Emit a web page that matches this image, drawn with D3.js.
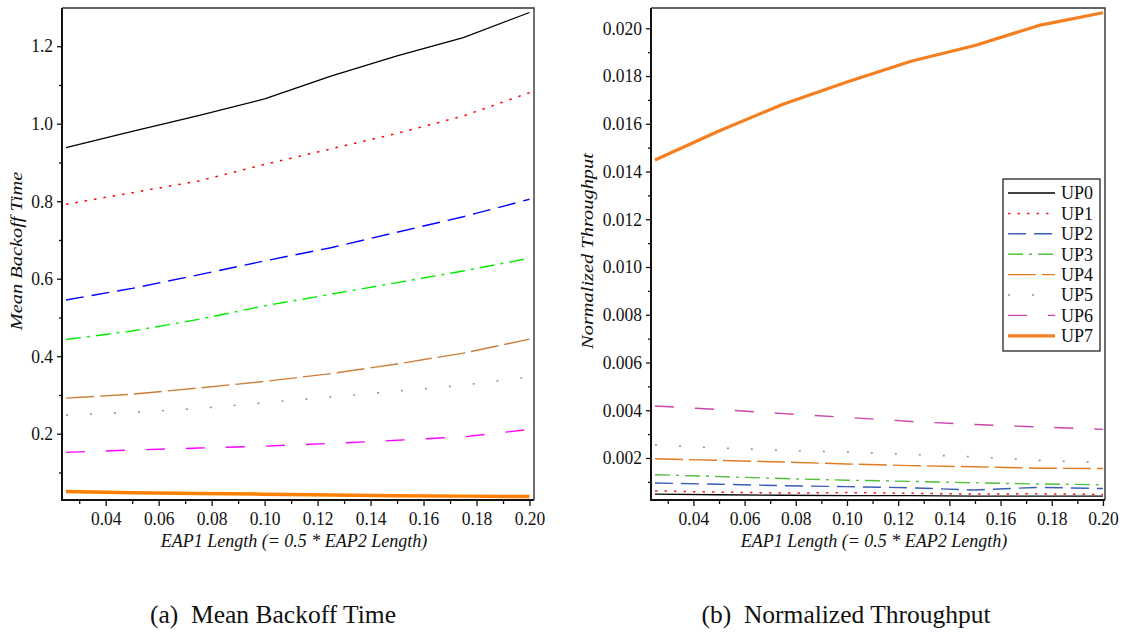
<!DOCTYPE html>
<html>
<head>
<meta charset="utf-8">
<script src="https://cdn.jsdelivr.net/npm/d3@7/dist/d3.min.js"></script>
<style>
  html, body { margin: 0; padding: 0; background: #fff; }
  svg { display: block; }
  text { font-family: "Liberation Serif", "Times New Roman", serif; fill: #111; }
</style>
</head>
<body>
<svg id="fig" width="1127" height="633"></svg>
<script>
// EAP1 length values (x axis, both panels)
const eapLengths = [0.025, 0.05, 0.075, 0.1, 0.125, 0.15, 0.175, 0.2];
const seriesNames = ["UP0", "UP1", "UP2", "UP3", "UP4", "UP5", "UP6", "UP7"];

// Mean backoff time per user priority
const backoffUP0 = [0.938, 0.980, 1.021, 1.064, 1.123, 1.175, 1.222, 1.287];
const backoffUP1 = [0.792, 0.822, 0.852, 0.895, 0.935, 0.975, 1.020, 1.080];
const backoffUP2 = [0.545, 0.575, 0.610, 0.646, 0.680, 0.720, 0.760, 0.805];
const backoffUP3 = [0.443, 0.465, 0.495, 0.530, 0.560, 0.590, 0.620, 0.653];
const backoffUP4 = [0.292, 0.302, 0.318, 0.335, 0.355, 0.380, 0.408, 0.444];
const backoffUP5 = [0.248, 0.255, 0.265, 0.280, 0.295, 0.310, 0.325, 0.347];
const backoffUP6 = [0.152, 0.158, 0.163, 0.168, 0.175, 0.183, 0.192, 0.211];
const backoffUP7 = [0.051, 0.048, 0.046, 0.044, 0.042, 0.040, 0.039, 0.038];

// Normalized throughput per user priority
const thrUP0 = [0.00049, 0.00046, 0.00044, 0.00042, 0.00042, 0.00040, 0.00040, 0.00040];
const thrUP1 = [0.00062, 0.00057, 0.00053, 0.00055, 0.00052, 0.00049, 0.00050, 0.00047];
const thrUP2 = [0.00095, 0.00090, 0.00084, 0.00080, 0.00075, 0.00066, 0.00077, 0.00072];
const thrUP3 = [0.00130, 0.00122, 0.00114, 0.00107, 0.00102, 0.00096, 0.00091, 0.00088];
const thrUP4 = [0.00197, 0.00190, 0.00183, 0.00175, 0.00168, 0.00163, 0.00157, 0.00156];
const thrUP5 = [0.00255, 0.00242, 0.00232, 0.00225, 0.00215, 0.00205, 0.00190, 0.00180];
const thrUP6 = [0.00418, 0.00403, 0.00386, 0.00370, 0.00353, 0.00340, 0.00330, 0.00320];
const thrUP7 = [0.01448, 0.01570, 0.01682, 0.01775, 0.01862, 0.01928, 0.02012, 0.02065];

// Tick values
const xMajorTicks = [0.04, 0.06, 0.08, 0.10, 0.12, 0.14, 0.16, 0.18, 0.20];
const xMinorTicks = [0.03, 0.05, 0.07, 0.09, 0.11, 0.13, 0.15, 0.17, 0.19];
const backoffMajorTicks = [0.2, 0.4, 0.6, 0.8, 1.0, 1.2];
const backoffMinorTicks = [0.1, 0.3, 0.5, 0.7, 0.9, 1.1];
const thrMajorTicks = [0.002, 0.004, 0.006, 0.008, 0.010, 0.012, 0.014, 0.016, 0.018, 0.020];
const thrMinorTicks = [0.001, 0.003, 0.005, 0.007, 0.009, 0.011, 0.013, 0.015, 0.017, 0.019];

// Line styles (panel a and panel b use slightly different palettes)
const styleA = [
  { color: "#000000", width: 1.3, dash: null },
  { color: "#ff0000", width: 1.5, dash: "2.5,7" },
  { color: "#0000ff", width: 1.4, dash: "18,8" },
  { color: "#00ee00", width: 1.4, dash: "15,6,3,6" },
  { color: "#cd7f3a", width: 1.4, dash: "28,6" },
  { color: "#999966", width: 1.6, dash: "2,22" },
  { color: "#ff00ff", width: 1.4, dash: "19,21" },
  { color: "#ff7f00", width: 3.5, dash: null }
];
const styleB = [
  { color: "#000000", width: 1.3, dash: null },
  { color: "#ee2020", width: 1.5, dash: "2.5,7" },
  { color: "#3a5db5", width: 1.4, dash: "18,8" },
  { color: "#4fbf3a", width: 1.4, dash: "15,6,3,6" },
  { color: "#e07b22", width: 1.4, dash: "28,6" },
  { color: "#9a9a60", width: 1.6, dash: "2,22" },
  { color: "#cc44aa", width: 1.4, dash: "19,21" },
  { color: "#f47f20", width: 3.2, dash: null }
];

const backoffSeries = [backoffUP0, backoffUP1, backoffUP2, backoffUP3, backoffUP4, backoffUP5, backoffUP6, backoffUP7];
const thrSeries = [thrUP0, thrUP1, thrUP2, thrUP3, thrUP4, thrUP5, thrUP6, thrUP7];

const serif = "Liberation Serif, Times New Roman, serif";
const stretch = 1.1;   // tick labels are drawn slightly tall
const svg = d3.select("#fig");

function styleTicks(sel, size) {
  sel.attr("font-family", serif);
  sel.selectAll(".tick line").attr("stroke", "#111").attr("stroke-width", 1.3);
  sel.selectAll(".tick text").attr("font-size", size).attr("font-family", serif)
    .attr("fill", "#111").attr("transform", `scale(1,${stretch})`);
  sel.select(".domain").remove();
}

function drawPanel(cfg) {
  const { left, right, top, bottom, xDomain, yDomain, series, styles,
          yMajor, yMinor, yFmt, yTitle, yTitleX, caption, captionX } = cfg;
  const x = d3.scaleLinear().domain(xDomain).range([left, right]);
  const y = d3.scaleLinear().domain(yDomain).range([bottom, top]);
  const g = svg.append("g");

  // frame (top and right)
  g.append("path")
    .attr("d", `M${left},${top}H${right}V${bottom}`)
    .attr("fill", "none").attr("stroke", "#333").attr("stroke-width", 1.4);

  // series lines, clipped to the frame
  const clipId = "clip" + Math.round(left);
  svg.append("clipPath").attr("id", clipId)
    .append("rect").attr("x", left).attr("y", top)
    .attr("width", right - left).attr("height", bottom - top);
  const line = d3.line().x((d, i) => x(eapLengths[i])).y(d => y(d));
  const lines = g.append("g").attr("clip-path", `url(#${clipId})`);
  series.forEach((vals, k) => {
    const s = styles[k];
    lines.append("path")
      .attr("d", line(vals))
      .attr("fill", "none")
      .attr("stroke", s.color)
      .attr("stroke-width", s.width)
      .attr("stroke-dasharray", s.dash)
      .attr("stroke-linejoin", "round");
  });

  // bottom axis, major and minor ticks
  g.append("g").attr("transform", `translate(0,${bottom})`)
    .call(d3.axisBottom(x).tickValues(xMajorTicks).tickFormat(d3.format(".2f"))
      .tickSize(6).tickPadding(4.5).tickSizeOuter(0))
    .call(styleTicks, 17.5);
  g.append("g").attr("transform", `translate(0,${bottom})`)
    .call(d3.axisBottom(x).tickValues(xMinorTicks).tickFormat("").tickSize(4).tickSizeOuter(0))
    .call(styleTicks, 17.5);

  // left axis, major and minor ticks
  const gy = g.append("g").attr("transform", `translate(${left},0)`)
    .call(d3.axisLeft(y).tickValues(yMajor).tickFormat(d3.format(yFmt))
      .tickSize(5).tickPadding(4).tickSizeOuter(0))
    .call(styleTicks, 17.5);
  gy.selectAll(".tick text").attr("dy", "0.3em");
  g.append("g").attr("transform", `translate(${left},0)`)
    .call(d3.axisLeft(y).tickValues(yMinor).tickFormat("").tickSize(3).tickSizeOuter(0))
    .call(styleTicks, 17.5);

  // left and bottom axis lines
  g.append("path")
    .attr("d", `M${left},${top}V${bottom}H${right}`)
    .attr("fill", "none").attr("stroke", "#111").attr("stroke-width", 2);

  // axis titles
  g.append("text")
    .attr("x", (left + right) / 2 - 4).attr("y", bottom + 47)
    .attr("text-anchor", "middle").attr("font-style", "italic").attr("font-size", 18)
    .attr("font-family", serif)
    .text("EAP1 Length (= 0.5 * EAP2 Length)");
  g.append("text")
    .attr("transform", `translate(${yTitleX},${(top + bottom) / 2 - 3}) rotate(-90) scale(1.2,1)`)
    .attr("text-anchor", "middle").attr("font-style", "italic").attr("font-size", 17)
    .attr("font-family", serif)
    .text(yTitle);

  // caption
  g.append("text")
    .attr("x", captionX).attr("y", 623)
    .attr("text-anchor", "middle").attr("font-size", 25.5)
    .attr("font-family", serif)
    .style("white-space", "pre")
    .text(caption);

  return { x, y, g };
}

// (a) Mean backoff time
drawPanel({
  left: 62, right: 534, top: 8, bottom: 500,
  xDomain: [0.0235, 0.2017], yDomain: [0.029, 1.2986],
  series: backoffSeries, styles: styleA,
  yMajor: backoffMajorTicks, yMinor: backoffMinorTicks, yFmt: ".1f",
  yTitle: "Mean Backoff Time", yTitleX: 22,
  caption: "(a)\u00a0 Mean Backoff Time", captionX: 273
});

// (b) Normalized throughput
drawPanel({
  left: 651, right: 1105, top: 8, bottom: 500,
  xDomain: [0.02344, 0.2008], yDomain: [0.00024, 0.02085],
  series: thrSeries, styles: styleB,
  yMajor: thrMajorTicks, yMinor: thrMinorTicks, yFmt: ".3f",
  yTitle: "Normalized Throughput", yTitleX: 593,
  caption: "(b)\u00a0 Normalized Throughput", captionX: 846
});

// legend for panel (b)
const legend = svg.append("g").attr("font-family", serif);
legend.append("rect")
  .attr("x", 1003).attr("y", 179).attr("width", 97).attr("height", 172)
  .attr("fill", "#fff").attr("stroke", "#111").attr("stroke-width", 1.2);
seriesNames.forEach((name, k) => {
  const yy = 193 + k * 20.4;
  const s = styleB[k];
  legend.append("line")
    .attr("x1", 1008).attr("x2", 1055).attr("y1", yy).attr("y2", yy)
    .attr("stroke", s.color).attr("stroke-width", s.width)
    .attr("stroke-dasharray", s.dash);
  legend.append("text")
    .attr("x", 1061).attr("y", yy).attr("dy", "0.36em")
    .attr("font-size", 18).attr("font-family", serif).text(name);
});
</script>
</body>
</html>
